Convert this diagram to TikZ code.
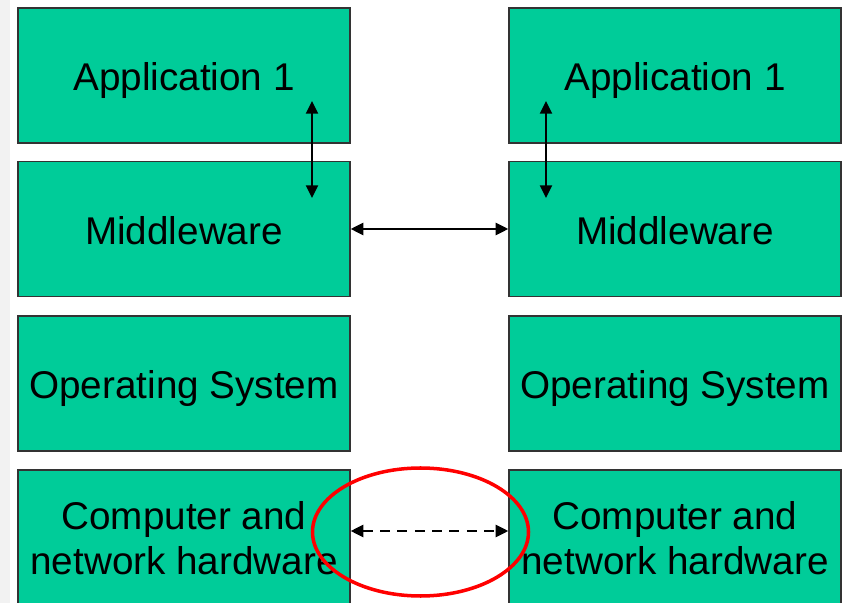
\documentclass[tikz,border=0pt]{standalone}
\usepackage{fontspec}
\setmainfont{Liberation Sans}
\usetikzlibrary{arrows.meta}

\definecolor{layerFill}{HTML}{00CC99}
\definecolor{layerBorder}{HTML}{333333}
\definecolor{ringColour}{HTML}{FF0000}

\tikzset{
    layer/.style={draw=layerBorder, fill=layerFill, line width=1.1pt,
        minimum width=99.6mm, minimum height=40.5mm, inner sep=0pt,
        text height=33pt, text depth=7.3pt,
        font=\fontsize{33}{38.3}\selectfont},
    hwlayer/.style={layer, minimum height=45mm, text height=0pt, text depth=0pt},
    link/.style={line width=1.9pt, {Triangle[length=3.8mm,width=3.6mm]}-{Triangle[length=3.8mm,width=3.6mm]}},
}

\begin{document}
\begin{tikzpicture}[x=0.3mm, y=-0.3mm]

    % Page frame
    \clip (0,0) rectangle (842,603);
    \fill[white] (0,0) rectangle (842,603);
    \fill[gray!10] (0,0) rectangle (10,603);

    % Left stack
    \node[layer] (app1) at (184,75.5) {Application 1};
    \node[layer] (mw1) at (184,229) {Middleware};
    \node[layer] (os1) at (184,383.5) {Operating System};
    \node[hwlayer] (hw1) at (184,545) {\raisebox{-1.5mm}{\begin{tabular}{@{}c@{}}Computer and\\network hardware\end{tabular}}};

    % Right stack
    \node[layer] (app2) at (675,75.5) {Application 1};
    \node[layer] (mw2) at (675,229) {Middleware};
    \node[layer] (os2) at (675,383.5) {Operating System};
    \node[hwlayer] (hw2) at (675,545) {\raisebox{-1.5mm}{\begin{tabular}{@{}c@{}}Computer and\\network hardware\end{tabular}}};

    % Ends of the vertical links
    \coordinate (upL) at (312,101);
    \coordinate (downL) at (312,198);
    \coordinate (upR) at (546,101);
    \coordinate (downR) at (546,198);
    \coordinate (hwL) at (hw1.east |- 0,531);
    \coordinate (hwR) at (hw2.west |- 0,531);

    % Links
    \draw[link] (upL) -- (downL);
    \draw[link] (upR) -- (downR);
    \draw[link] (mw1.east) -- (mw2.west);
    \draw[link, dash pattern=on 3mm off 2.2mm] (hwL) -- (hwR);

    % Highlight ring
    \draw[ringColour, line width=3pt] (420.5,532) ellipse [x radius=108, y radius=64];

\end{tikzpicture}
\end{document}
